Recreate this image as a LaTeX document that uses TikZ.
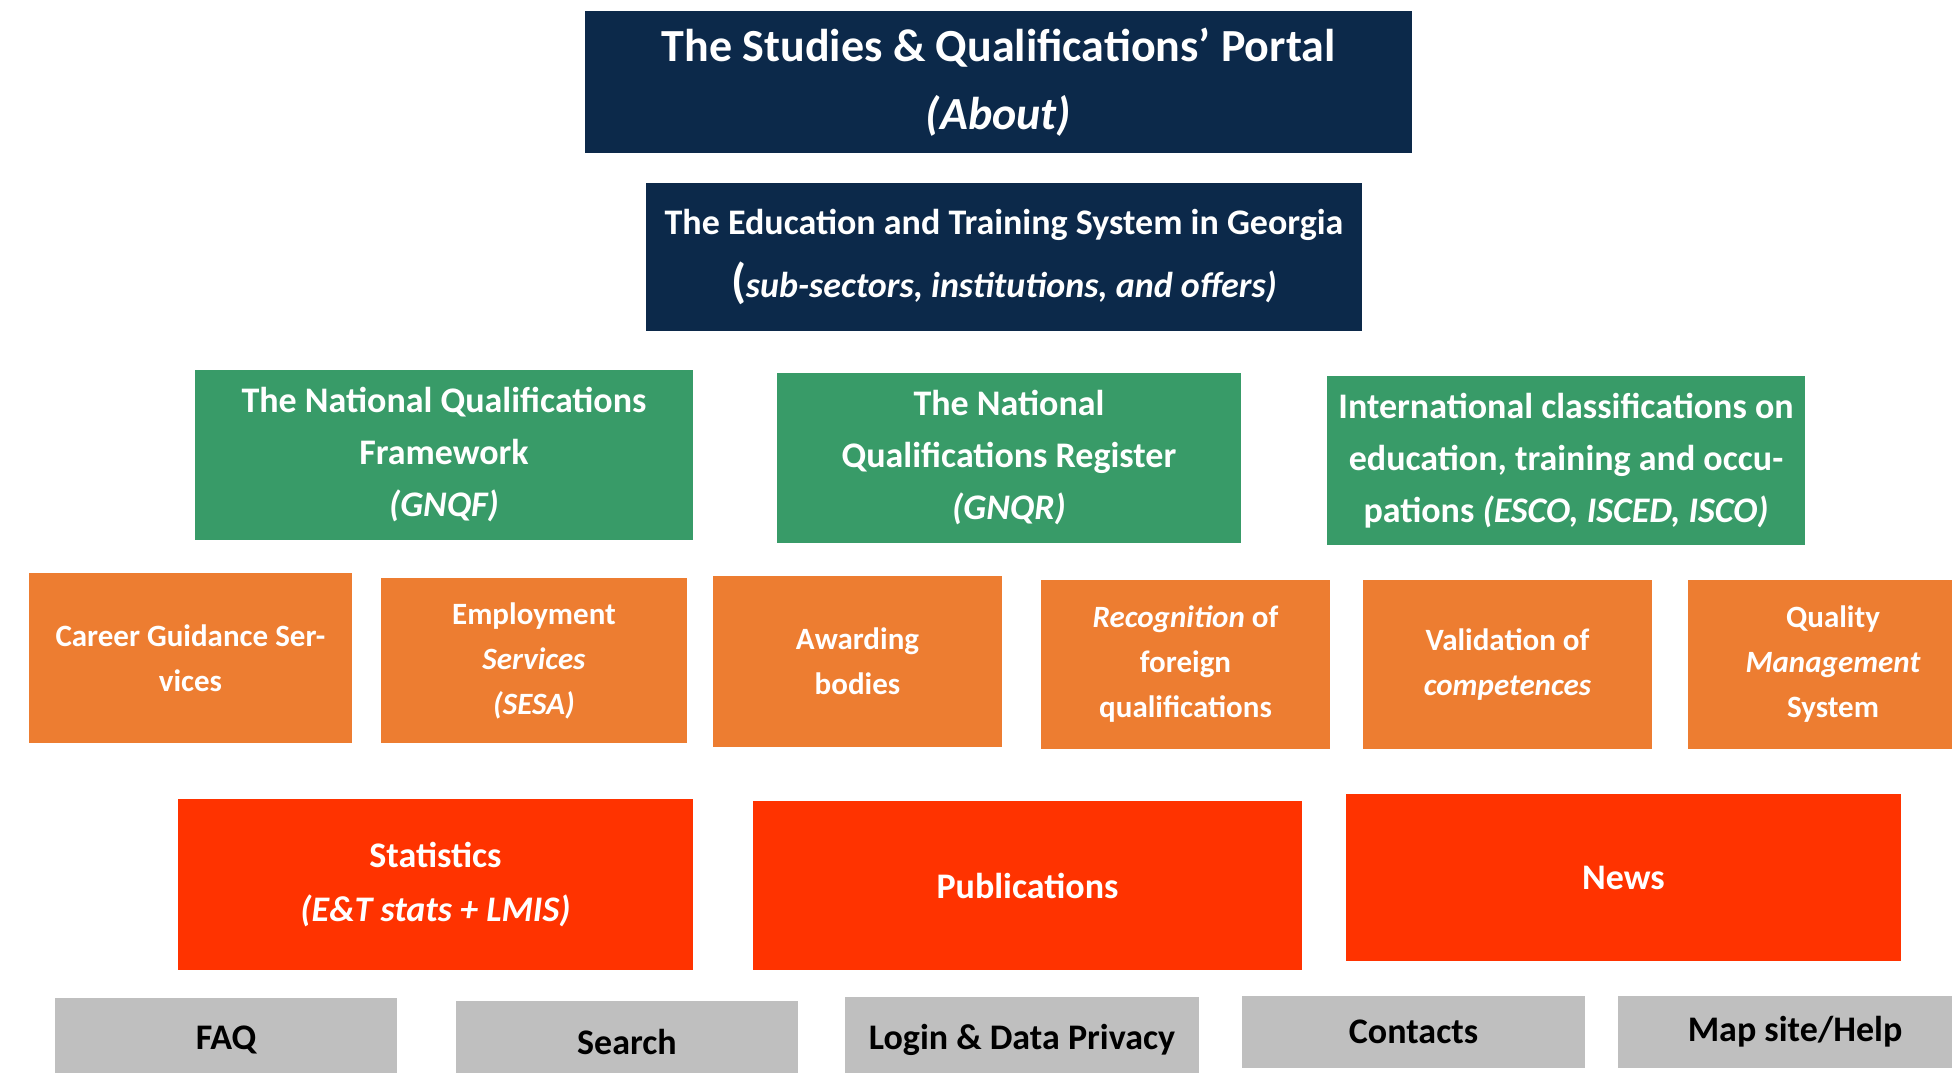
\documentclass[tikz,border=0pt]{standalone}
\usepackage{fontspec}
\setmainfont{Carlito}
\definecolor{navy1}{RGB}{12, 41, 74}
\definecolor{green1}{RGB}{56, 155, 104}
\definecolor{orange1}{RGB}{237, 125, 49}
\definecolor{red1}{RGB}{255, 51, 0}
\definecolor{gray1}{RGB}{191, 191, 191}
\usetikzlibrary{positioning}

\tikzset{
  box/.style={inner sep=0pt, align=center, font=\bfseries},
  navybox/.style={box, fill=navy1, text=white},
  greenbox/.style={box, fill=green1, text=white, font=\bfseries\fontsize{36}{52}\selectfont},
  orangebox/.style={box, fill=orange1, text=white, font=\bfseries\fontsize{31}{45}\selectfont},
  redbox/.style={box, fill=red1, text=white, font=\bfseries\fontsize{36}{54}\selectfont},
  graybox/.style={box, fill=gray1, text=black, font=\bfseries\fontsize{36}{40}\selectfont},
}

\begin{document}
\begin{tikzpicture}[x=1pt, y=-1pt]
  \useasboundingbox (0,0) rectangle (1952,1072);

  % portal and system
  \node[navybox, minimum width=827pt, minimum height=142pt, font=\bfseries\fontsize{46}{68}\selectfont] (portal) at (998.5,82)
    {The Studies \& Qualifications’ Portal\\\textit{(About)}};
  \node[navybox, minimum width=716pt, minimum height=148pt, font=\bfseries\fontsize{36}{63}\selectfont] (etsys) at (1004,257)
    {The Education and Training System in Georgia\\{\fontsize{48}{63}\selectfont(}\textit{sub-sectors, institutions, and offers)}};

  % frameworks
  \node[greenbox, minimum width=498pt, minimum height=170pt] (gnqf) at (444,455)
    {The National Qualifications\\Framework\\\textit{(GNQF)}};
  \node[greenbox, minimum width=464pt, minimum height=170pt] (gnqr) at (1009,458)
    {The National\\Qualifications Register\\\textit{(GNQR)}};
  \node[greenbox, minimum width=478pt, minimum height=169pt] (intl) at (1566,460.5)
    {International classifications on\\education, training and occu-\\pations \textit{(ESCO, ISCED, ISCO)}};

  % services
  \node[orangebox, minimum width=323pt, minimum height=170pt] (career) at (190.5,658)
    {Career Guidance Ser-\\vices};
  \node[orangebox, minimum width=306pt, minimum height=165pt] (employ) at (534,660.5)
    {Employment\\\textit{Services}\\\textit{(SESA)}};
  \node[orangebox, minimum width=289pt, minimum height=171pt] (award) at (857.5,661.5)
    {Awarding\\bodies};
  \node[orangebox, minimum width=289pt, minimum height=169pt] (recog) at (1185.5,664.5)
    {\textit{Recognition} of\\foreign\\qualifications};
  \node[orangebox, minimum width=289pt, minimum height=169pt] (valid) at (1507.5,664.5)
    {Validation of\\\textit{competences}};
  \node[orangebox, minimum width=290pt, minimum height=169pt] (quality) at (1833,664.5)
    {Quality\\\textit{Management}\\System};

  % resources
  \node[redbox, minimum width=515pt, minimum height=171pt] (stats) at (435.5,884.5)
    {Statistics\\\textit{(E\&T stats + LMIS)}};
  \node[redbox, minimum width=549pt, minimum height=169pt] (publ) at (1027.5,885.5)
    {Publications};
  \node[redbox, minimum width=555pt, minimum height=167pt] (news) at (1623.5,877.5)
    {News};

  % menu
  \node[graybox, minimum width=342pt, minimum height=84pt] (faq) at (226,1040) {FAQ};
  \node[graybox, minimum width=342pt, minimum height=81pt] (search) at (627,1041.5) {Search};
  \node[graybox, minimum width=354pt, minimum height=85pt] (login) at (1022,1039.5) {Login \& Data Privacy};
  \node[graybox, minimum width=343pt, minimum height=72pt] (contacts) at (1413.5,1032) {Contacts};
  \node[graybox, minimum width=354pt, minimum height=72pt] (maphelp) at (1795,1032) {Map site/Help};
\end{tikzpicture}
\end{document}
